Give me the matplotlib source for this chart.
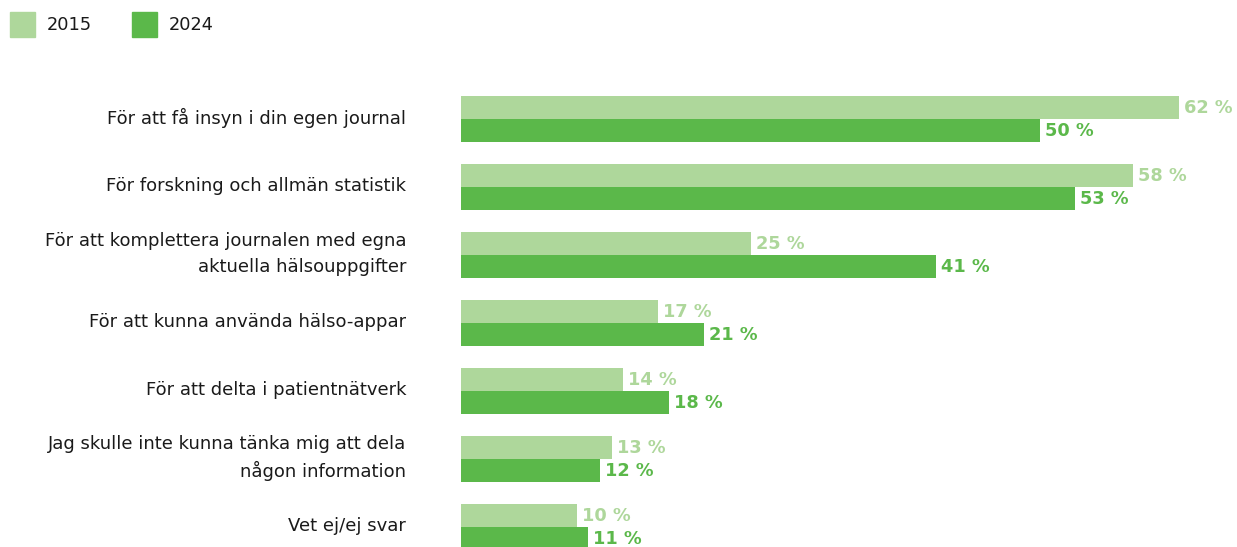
import matplotlib
matplotlib.use("Agg")
import matplotlib.pyplot as plt
from matplotlib.patches import Rectangle

categories = [
    "För att få insyn i din egen journal",
    "För forskning och allmän statistik",
    "För att komplettera journalen med egna\naktuella hälsouppgifter",
    "För att kunna använda hälso-appar",
    "För att delta i patientnätverk",
    "Jag skulle inte kunna tänka mig att dela\nnågon information",
    "Vet ej/ej svar",
]
years = ["2015", "2024"]
values_2015 = [62, 58, 25, 17, 14, 13, 10]
values_2024 = [50, 53, 41, 21, 18, 12, 11]

col_2015 = "#AED79B"
col_2024 = "#5BB84A"
plt.rcParams["font.family"] = ["DejaVu Sans"]

W, H = 1237, 547
fig = plt.figure(figsize=(W / 100, H / 100), dpi=100)

ax_left = 461
ax = fig.add_axes([ax_left / W, 0, (W - ax_left) / W, 1])
px_per_unit = 11.58
ax.set_xlim(0, (W - ax_left) / px_per_unit)
pitch = 68.0
first_center = 119.0
ax.set_ylim((H - first_center) / pitch, -first_center / pitch)
ax.axis("off")

bh = 23 / pitch
ypos = list(range(len(categories)))
ax.barh([y - bh / 2 for y in ypos], values_2015, height=bh, color=col_2015, align="center")
ax.barh([y + bh / 2 for y in ypos], values_2024, height=bh, color=col_2024, align="center")

off = 5 / px_per_unit
for y, v in zip(ypos, values_2015):
    ax.text(v + off, y - bh / 2 + 0.01, f"{v} %", va="center", ha="left", color=col_2015,
            fontsize=12.8, fontweight="bold")
for y, v in zip(ypos, values_2024):
    ax.text(v + off, y + bh / 2 + 0.01, f"{v} %", va="center", ha="left", color=col_2024,
            fontsize=12.8, fontweight="bold")

# category labels, right aligned left of the bars
for y, cat in zip(ypos, categories):
    ypix = first_center - 1 + pitch * y
    fig.text(406 / W, 1 - ypix / H, cat, ha="right", va="center", fontsize=13,
             color="#1a1a1a", linespacing=1.55)

# legend
for x0, lab, c in [(10, years[0], col_2015), (132, years[1], col_2024)]:
    fig.patches.append(Rectangle((x0 / W, 1 - 37 / H), 25 / W, 25 / H,
                                 transform=fig.transFigure, color=c))
    fig.text((x0 + 37) / W, 1 - 25 / H, lab, ha="left", va="center",
             fontsize=12.8, color="#1a1a1a")

fig.savefig("out.png", dpi=100)
